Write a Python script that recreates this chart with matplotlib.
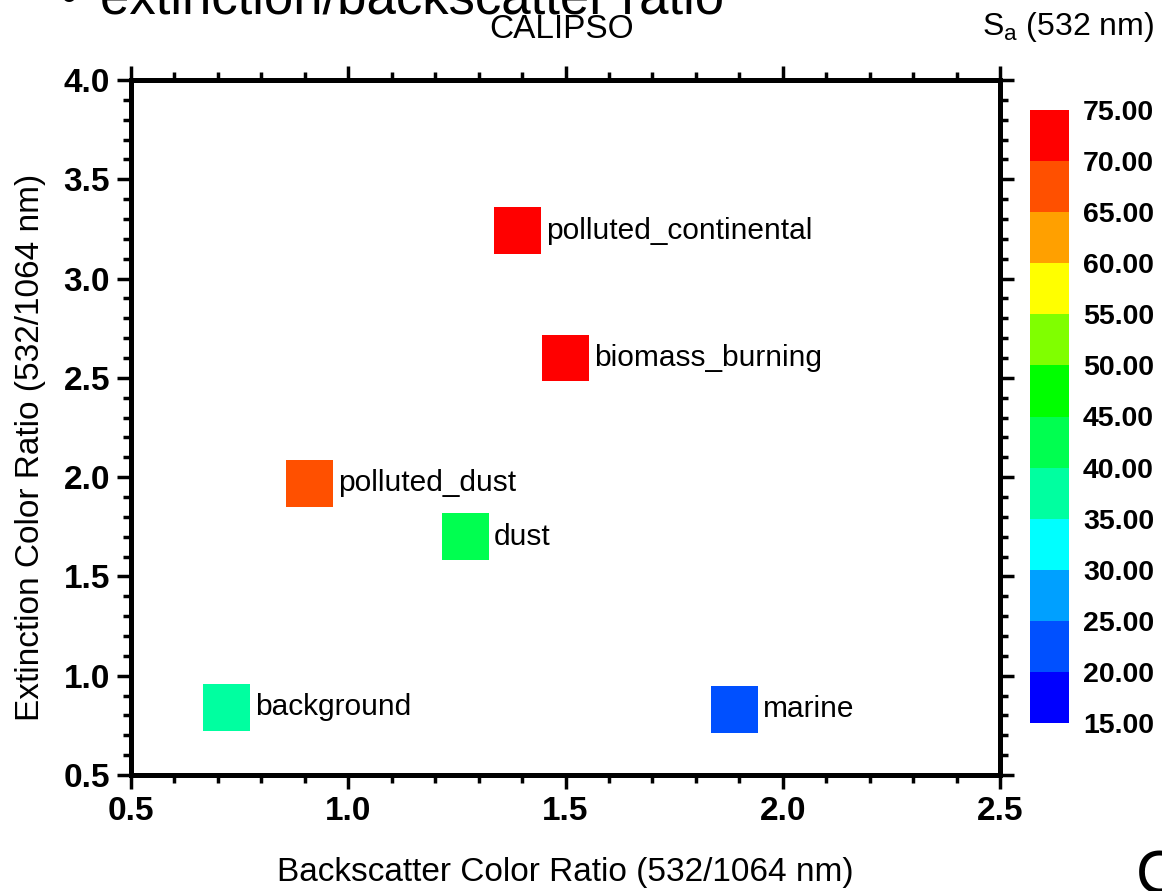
import matplotlib
matplotlib.use('Agg')
import matplotlib.pyplot as plt
from matplotlib.colors import ListedColormap, BoundaryNorm
from matplotlib.ticker import MultipleLocator, FormatStrFormatter

plt.rcParams['font.family'] = ['Liberation Sans', 'DejaVu Sans']
plt.rcParams['mathtext.fontset'] = 'custom'
plt.rcParams['mathtext.rm'] = 'Liberation Sans'

# aerosol types and their colour ratios / lidar ratio
aerosol_types = ['polluted_continental', 'biomass_burning', 'polluted_dust',
                 'dust', 'background', 'marine']
backscatter_cr = [1.39, 1.50, 0.91, 1.27, 0.72, 1.89]
extinction_cr = [3.24, 2.60, 1.97, 1.70, 0.84, 0.83]
lidar_ratio = [70, 70, 65, 40, 35, 20]

# colour scale of S_a
sa_levels = [15, 20, 25, 30, 35, 40, 45, 50, 55, 60, 65, 70, 75]
sa_colors = ['#0000FF', '#0050FF', '#00A0FF', '#00FFFF', '#00FFA0', '#00FF50',
             '#00FF00', '#80FF00', '#FFFF00', '#FFA000', '#FF5000', '#FF0000']

W, H = 1162, 891
fig = plt.figure(figsize=(W / 100, H / 100), dpi=100)

def px_box(x0, y0, x1, y1):
    return [x0 / W, 1 - y1 / H, (x1 - x0) / W, (y1 - y0) / H]

ax = fig.add_axes(px_box(131, 80, 1000, 775))
cax = fig.add_axes(px_box(1030, 110, 1069, 723))

cmap = ListedColormap(sa_colors)
norm = BoundaryNorm(sa_levels, cmap.N)

sc = ax.scatter(backscatter_cr, extinction_cr, c=lidar_ratio, cmap=cmap, norm=norm,
                marker='s', s=33.8 ** 2, linewidths=0, zorder=3)
for name, x, y in zip(aerosol_types, backscatter_cr, extinction_cr):
    ax.annotate(name, (x, y), xytext=(20.5, 0), textcoords='offset points',
                va='center', ha='left', fontsize=21.5)

ax.set_xlim(0.5, 2.5)
ax.set_ylim(0.5, 4.0)
ax.xaxis.set_major_locator(MultipleLocator(0.5))
ax.xaxis.set_minor_locator(MultipleLocator(0.1))
ax.yaxis.set_major_locator(MultipleLocator(0.5))
ax.yaxis.set_minor_locator(MultipleLocator(0.1))
ax.xaxis.set_major_formatter(FormatStrFormatter('%.1f'))
ax.yaxis.set_major_formatter(FormatStrFormatter('%.1f'))

for sp in ax.spines.values():
    sp.set_linewidth(3.6)
ax.tick_params(which='both', direction='out', top=True, right=True, width=2.5)
ax.tick_params(which='major', length=10, pad=5, labelsize=24)
ax.tick_params(which='minor', length=5.5)
for lab in ax.get_xticklabels() + ax.get_yticklabels():
    lab.set_fontweight('bold')

ax.set_xlabel('Backscatter Color Ratio (532/1064 nm)', fontsize=24)
ax.set_ylabel('Extinction Color Ratio (532/1064 nm)', fontsize=24)
ax.xaxis.label.set_va('center')
ax.yaxis.label.set_va('center')
ax.xaxis.set_label_coords(0.5, -0.141)
ax.yaxis.set_label_coords(-0.116, 0.472)

cb = fig.colorbar(sc, cax=cax, ticks=sa_levels)
cb.outline.set_visible(False)
cb.ax.yaxis.set_major_formatter(FormatStrFormatter('%.2f'))
cb.ax.tick_params(length=0, pad=10, labelsize=20.5)
for lab in cb.ax.get_yticklabels():
    lab.set_fontweight('bold')

fig.text(562 / W, 1 - 30 / H, 'CALIPSO', ha='center', va='center', fontsize=24)
fig.text(982 / W, 1 - 35 / H, r'S$_{\mathregular{a}}$ (532 nm)', ha='left',
         va='baseline', fontsize=23)

# cropped slide text
fig.text(60 / W, 1 - 13 / H, '\u2022', ha='left', va='baseline', fontsize=38)
fig.text(100 / W, 1 - 13 / H, 'extinction/backscatter ratio', ha='left',
         va='baseline', fontsize=38)
fig.text(1136 / W, 1 - 850 / H, 'C', ha='left', va='top', fontsize=44)

fig.savefig('out.png', dpi=100)
